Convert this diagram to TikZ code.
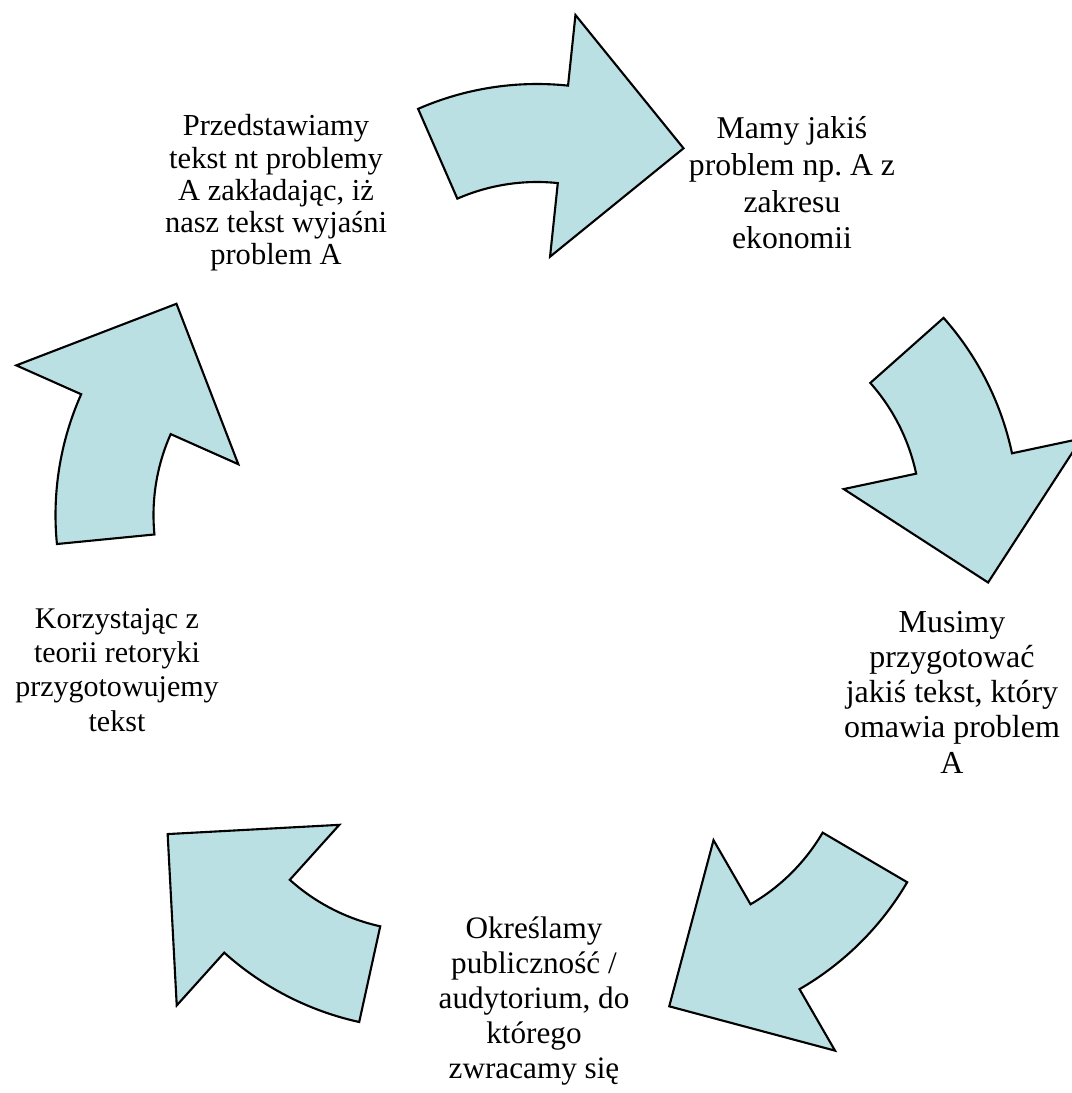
\documentclass[tikz,border=0pt]{standalone}
\usepackage{fontspec}
\setmainfont{Liberation Serif}
\frenchspacing

\definecolor{morski}{RGB}{187,224,227}
\def\dsr{1.94}
\def\rwew{1.99}
\def\rzew{2.97}
\def\rgw{1.25}
\def\rgz{3.68}
\def\rgrot{2.75}
\newcommand\rozm[2]{\fontsize{#1}{#2}\selectfont}

\begin{document}
\begin{tikzpicture}[
	strzalka/.style={fill=morski,draw=black,line width=0.6pt,line join=miter},
	opis/.style={align=center,inner sep=0pt}]
\useasboundingbox (0,0) rectangle (10.72,10.93);
\coordinate (srodek) at (5.37,5.18);
% strzalki
\begin{scope}[shift={(srodek)}]
\foreach \a in {90,18,-54,-126,162}{
	\draw[strzalka,shift={(\a:\dsr)}] (\a+23.6:\rzew)
		arc[start angle=\a+23.6,end angle=\a-6,radius=\rzew]
		-- (\a-6:\rgz) -- (\a-32.2:\rgrot) -- (\a-6:\rgw) -- (\a-6:\rwew)
		arc[start angle=\a-6,end angle=\a+23.6,radius=\rwew] -- cycle;
}
\end{scope}
% opisy
\node[opis,font=\rozm{9.02}{10.43}] (problem) at (7.92,9.1) {Mamy jakiś\\problem np. A z\\zakresu\\ekonomii};
\node[opis,font=\rozm{9.1}{10.03}] (tekst) at (9.52,4.01) {Musimy\\przygotować\\jakiś tekst, który\\omawia problem\\A};
\node[opis,font=\rozm{8.88}{9.96}] (publicznosc) at (5.34,0.92) {Określamy\\publiczność /\\audytorium, do\\którego\\zwracamy się};
\node[opis,font=\rozm{8.54}{9.73}] (retoryka) at (1.17,4.23) {Korzystając z\\teorii retoryki\\przygotowujemy\\tekst};
\node[opis,font=\rozm{8.68}{9.17}] (przedstawienie) at (2.76,9.0) {Przedstawiamy\\tekst nt problemy\\A zakładając, iż\\nasz tekst wyjaśni\\problem A};
\end{tikzpicture}
\end{document}
